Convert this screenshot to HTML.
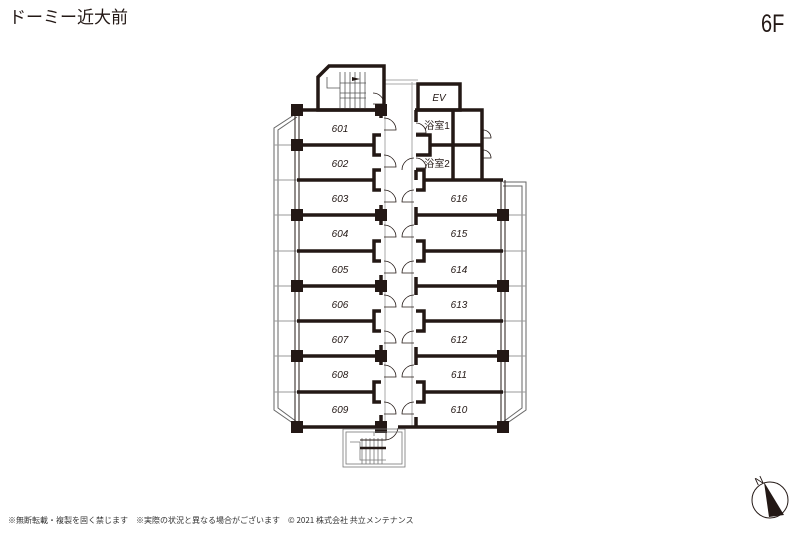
<!DOCTYPE html>
<html><head><meta charset="utf-8"><style>
html,body{margin:0;padding:0;background:#fff}
svg{display:block}
text{font-family:"Liberation Sans","Noto Sans CJK JP",sans-serif}
</style></head><body>
<svg width="800" height="533" viewBox="0 0 800 533" xmlns="http://www.w3.org/2000/svg">
<rect width="800" height="533" fill="#fff"/>
<text x="9" y="23" font-size="17" fill="#231815" style="font-family:'Noto Sans CJK JP',sans-serif">ドーミー近大前</text>
<text x="761" y="32" font-size="25" fill="#231815" transform="translate(761,0) scale(0.8,1) translate(-761,0)">6F</text>

<!-- balconies -->
<g fill="none" stroke="#666" stroke-width="1">
<path d="M297,113 L274,128 L274,410 L297,426"/>
<path d="M297,117 L278,130 L278,408 L297,422"/>
<path d="M503,182 H526 V410 L503,426"/>
<path d="M503,186 H522 V408 L503,422"/>
</g>
<g stroke="#999" stroke-width="1">
<line x1="274" y1="145" x2="297" y2="145"/><line x1="274" y1="180" x2="297" y2="180"/><line x1="274" y1="215" x2="297" y2="215"/><line x1="274" y1="251" x2="297" y2="251"/><line x1="274" y1="286" x2="297" y2="286"/><line x1="274" y1="321" x2="297" y2="321"/><line x1="274" y1="356" x2="297" y2="356"/><line x1="274" y1="392" x2="297" y2="392"/>
<line x1="503" y1="215" x2="526" y2="215"/><line x1="503" y1="251" x2="526" y2="251"/><line x1="503" y1="286" x2="526" y2="286"/><line x1="503" y1="321" x2="526" y2="321"/><line x1="503" y1="356" x2="526" y2="356"/><line x1="503" y1="392" x2="526" y2="392"/>
</g>
<g stroke="#231815" stroke-width="1" fill="none">
<line x1="295" y1="110" x2="295" y2="427"/><line x1="299" y1="110" x2="299" y2="427"/>
<line x1="501" y1="180" x2="501" y2="427"/><line x1="505" y1="180" x2="505" y2="427"/>
</g>
<g stroke="#aaa" stroke-width="1">
<line x1="385" y1="82" x2="385" y2="428"/><line x1="412" y1="82" x2="412" y2="428"/>
<line x1="384" y1="80" x2="418" y2="80"/><line x1="384" y1="84" x2="418" y2="84"/>
</g>
<!-- walls -->
<g stroke="#231815" stroke-width="3.5" fill="none">
<path d="M318,77 L329,66 H384 V110 H318 Z"/>
<line x1="297" y1="110" x2="384" y2="110"/>
<line x1="297" y1="145" x2="374" y2="145"/><line x1="297" y1="180" x2="374" y2="180"/><line x1="297" y1="215" x2="381" y2="215"/><line x1="297" y1="251" x2="374" y2="251"/><line x1="297" y1="286" x2="381" y2="286"/><line x1="297" y1="321" x2="374" y2="321"/><line x1="297" y1="356" x2="381" y2="356"/><line x1="297" y1="392" x2="374" y2="392"/><line x1="297" y1="427" x2="384" y2="427"/>
<line x1="424" y1="180" x2="503" y2="180"/><line x1="415" y1="215" x2="503" y2="215"/><line x1="424" y1="251" x2="503" y2="251"/><line x1="415" y1="286" x2="503" y2="286"/><line x1="424" y1="321" x2="503" y2="321"/><line x1="415" y1="356" x2="503" y2="356"/><line x1="424" y1="392" x2="503" y2="392"/><line x1="398" y1="427" x2="503" y2="427"/>
<rect x="418" y="84" width="42" height="26"/>
<path d="M415,110 H482 V180"/>
<line x1="430" y1="145" x2="482" y2="145"/>
<line x1="453" y1="110" x2="453" y2="180"/>
<path d="M416,110 V122 M416,170 V180"/>
<path d="M416,207 V225 M416,277 V295 M416,347 V365 M416,417 V427"/>
<path d="M381,110 V118 M381,205 V225 M381,275 V295 M381,345 V365 M381,415 V427"/>
<path d="M381,135 H374 V155 H381 M381,170 H374 V190 H381 M381,241 H374 V261 H381 M381,311 H374 V331 H381 M381,382 H374 V402 H381"/>
<path d="M416,170 H424 V190 H416 M416,241 H424 V261 H416 M416,311 H424 V331 H416 M416,382 H424 V402 H416 M416,135 H430 V155 H416"/>
</g>
<g fill="#231815">
<rect x="291" y="104" width="12" height="12"/><rect x="291" y="139" width="12" height="12"/><rect x="291" y="209" width="12" height="12"/><rect x="291" y="280" width="12" height="12"/><rect x="291" y="350" width="12" height="12"/><rect x="291" y="421" width="12" height="12"/>
<rect x="375" y="104" width="12" height="12"/><rect x="375" y="209" width="12" height="12"/><rect x="375" y="280" width="12" height="12"/><rect x="375" y="350" width="12" height="12"/><rect x="375" y="421" width="12" height="12"/>
<rect x="497" y="209" width="12" height="12"/><rect x="497" y="280" width="12" height="12"/><rect x="497" y="350" width="12" height="12"/><rect x="497" y="421" width="12" height="12"/>
</g>
<!-- doors -->
<g fill="none" stroke="#231815" stroke-width="0.8">
<path d="M384,118 a12,12 0 0 1 12,12 H384"/>
<path d="M384,155 a12,12 0 0 1 12,12 H384"/>
<path d="M384,190 a12,12 0 0 1 12,12 H384"/>
<path d="M384,225 a12,12 0 0 1 12,12 H384"/>
<path d="M384,261 a12,12 0 0 1 12,12 H384"/>
<path d="M384,295 a12,12 0 0 1 12,12 H384"/>
<path d="M384,331 a12,12 0 0 1 12,12 H384"/>
<path d="M384,365 a12,12 0 0 1 12,12 H384"/>
<path d="M384,402 a12,12 0 0 1 12,12 H384"/>
<path d="M414,190 a12,12 0 0 0 -12,12 H414"/>
<path d="M414,225 a12,12 0 0 0 -12,12 H414"/>
<path d="M414,261 a12,12 0 0 0 -12,12 H414"/>
<path d="M414,295 a12,12 0 0 0 -12,12 H414"/>
<path d="M414,331 a12,12 0 0 0 -12,12 H414"/>
<path d="M414,365 a12,12 0 0 0 -12,12 H414"/>
<path d="M414,402 a12,12 0 0 0 -12,12 H414"/>
<path d="M414,158 a12,12 0 0 0 -12,12"/>
<path d="M384,104 a11,11 0 0 0 -11,-11 M373,104 H384"/>
<path d="M416,123 a10,10 0 0 1 10,10 H416"/>
<path d="M416,158 a10,10 0 0 1 10,10 H416"/>
<path d="M483,130 a8,8 0 0 1 8,8 H483"/>
<path d="M483,150 a8,8 0 0 1 8,8 H483"/>
<path d="M386,428 V440 M386,440 a14,14 0 0 0 12,-12"/>
</g>
<g stroke="#555" stroke-width="0.8" fill="none">
<path d="M327,77 V88 H340"/>
<line x1="340" y1="72" x2="340" y2="108"/>
<line x1="345" y1="72" x2="345" y2="108"/><line x1="350" y1="72" x2="350" y2="108"/><line x1="355" y1="72" x2="355" y2="108"/><line x1="360" y1="72" x2="360" y2="108"/><line x1="365" y1="72" x2="365" y2="108"/>
<line x1="340" y1="83" x2="366" y2="83"/><line x1="340" y1="93" x2="366" y2="93"/><line x1="340" y1="98" x2="366" y2="98"/>
</g>
<path d="M352,77 L360,79 L352,81 Z" fill="#231815"/>
<g stroke="#777" stroke-width="0.8" fill="none">
<rect x="343" y="429" width="62" height="38"/>
<rect x="346" y="432" width="56" height="32"/>
<path d="M374,432 V436 M350,442 H360 V460 H386"/>
<line x1="362" y1="438" x2="362" y2="464"/><line x1="366" y1="438" x2="366" y2="464"/><line x1="370" y1="438" x2="370" y2="464"/><line x1="374" y1="438" x2="374" y2="464"/><line x1="378" y1="438" x2="378" y2="464"/><line x1="382" y1="438" x2="382" y2="464"/>
</g>
<line x1="360" y1="448" x2="386" y2="448" stroke="#231815" stroke-width="2.5"/>
<line x1="360" y1="440" x2="386" y2="440" stroke="#231815" stroke-width="1"/>
<g font-size="10" font-style="italic" fill="#231815" text-anchor="middle">
<text x="340" y="132">601</text><text x="340" y="167">602</text><text x="340" y="202">603</text><text x="340" y="237">604</text><text x="340" y="273">605</text><text x="340" y="308">606</text><text x="340" y="343">607</text><text x="340" y="378">608</text><text x="340" y="413">609</text>
<text x="459" y="202">616</text><text x="459" y="237">615</text><text x="459" y="273">614</text><text x="459" y="308">613</text><text x="459" y="343">612</text><text x="459" y="378">611</text><text x="459" y="413">610</text>
<text x="439" y="101">EV</text>
</g>
<g font-size="10" fill="#231815" text-anchor="middle" style="font-family:'Noto Sans CJK JP',sans-serif">
<text x="437" y="129">浴室1</text><text x="437" y="167">浴室2</text>
</g>
<text x="8" y="523" font-size="8" fill="#333" style="font-family:'Noto Sans CJK JP',sans-serif">※無断転載・複製を固く禁じます　※実際の状況と異なる場合がございます　© 2021 株式会社 共立メンテナンス</text>
<circle cx="770" cy="500" r="18" fill="none" stroke="#231815" stroke-width="1"/>
<path d="M764,482 L784,515 L769,517 Z" fill="#231815"/>
<text x="755" y="484" font-size="11" fill="#231815" transform="rotate(-25 760 480)">N</text>
</svg>
</body></html>
